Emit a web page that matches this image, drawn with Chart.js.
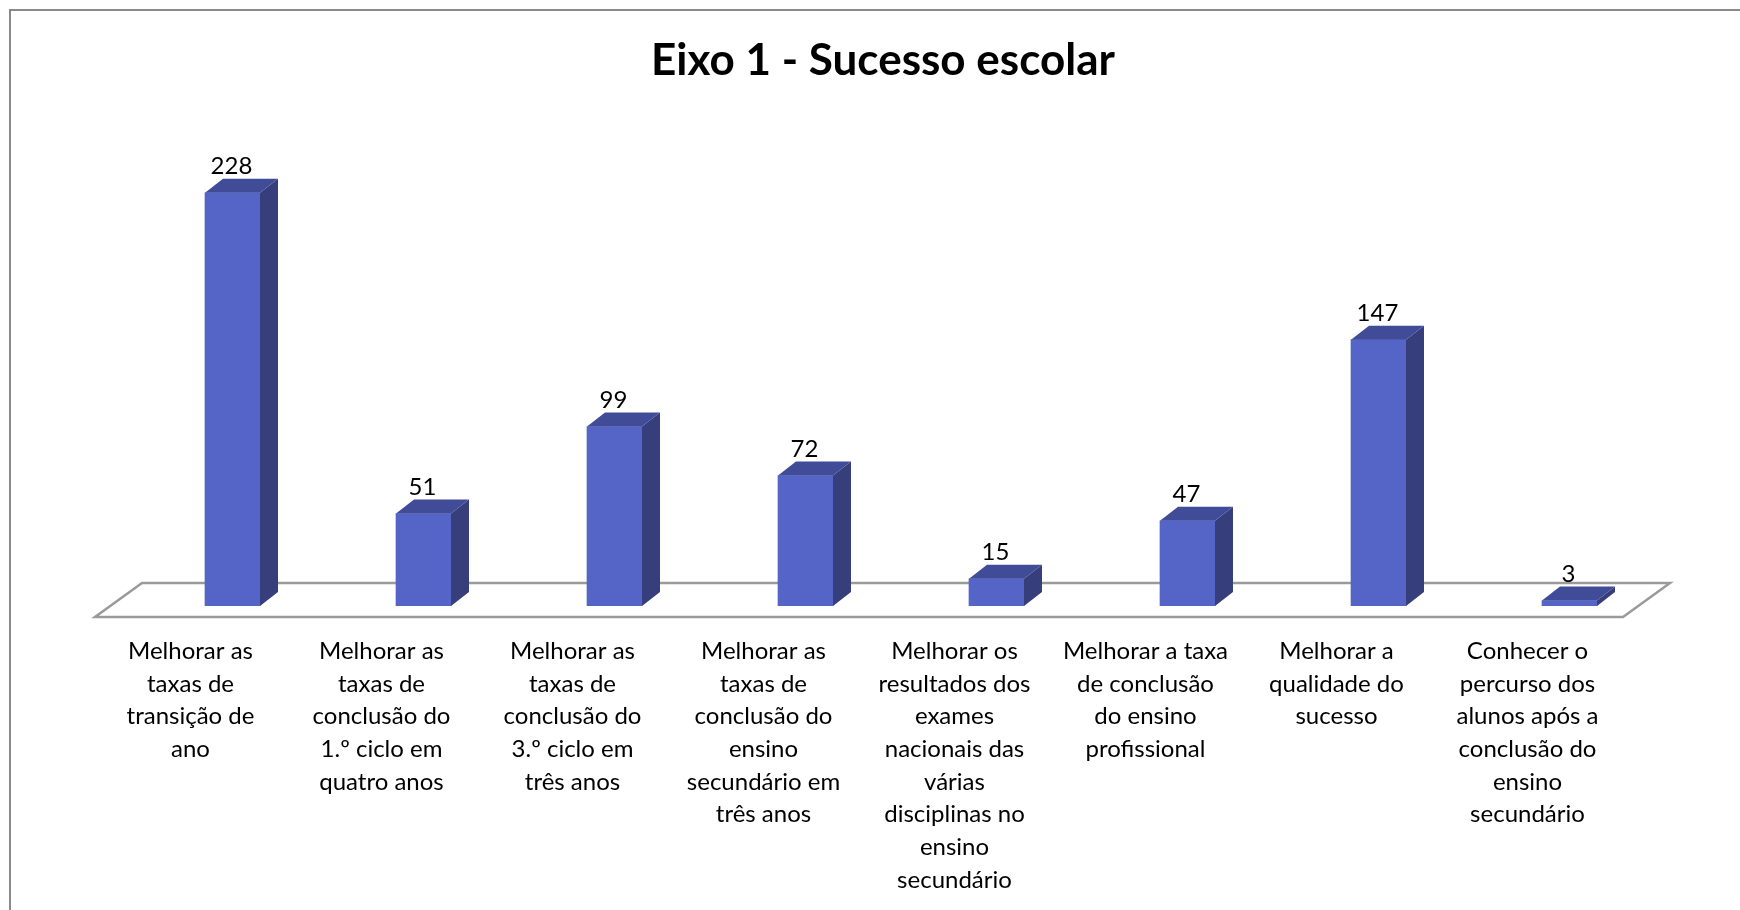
<!DOCTYPE html>
<html>
<head>
<meta charset="utf-8">
<script src="https://cdn.jsdelivr.net/npm/chart.js@4.4.0/dist/chart.umd.min.js"></script>
<style>
  body { margin: 0; background: #fff; }
</style>
</head>
<body>
<canvas id="eixoChart" width="1740" height="910"></canvas>
<script>
var chartTitle = 'Eixo 1 - Sucesso escolar';
var categories = [
  ['Melhorar as', 'taxas de', 'transição de', 'ano'],
  ['Melhorar as', 'taxas de', 'conclusão do', '1.º ciclo em', 'quatro anos'],
  ['Melhorar as', 'taxas de', 'conclusão do', '3.º ciclo em', 'três anos'],
  ['Melhorar as', 'taxas de', 'conclusão do', 'ensino', 'secundário em', 'três anos'],
  ['Melhorar os', 'resultados dos', 'exames', 'nacionais das', 'várias', 'disciplinas no', 'ensino', 'secundário'],
  ['Melhorar a taxa', 'de conclusão', 'do ensino', 'profissional'],
  ['Melhorar a', 'qualidade do', 'sucesso'],
  ['Conhecer o', 'percurso dos', 'alunos após a', 'conclusão do', 'ensino', 'secundário']
];
var values = [228, 51, 99, 72, 15, 47, 147, 3];

var FRONT = 'rgb(85, 101, 199)';
var SIDE = 'rgb(54, 62, 124)';
var TOP = 'rgb(65, 76, 152)';
var DX = 18, DY = 14; // depth of the 3d bars

// fake 3d look: floor, side and top faces, value labels
var bars3d = {
  id: 'bars3d',
  beforeDraw: function(chart) {
    var ctx = chart.ctx;
    ctx.save();
    ctx.strokeStyle = '#8a8a8a';
    ctx.lineWidth = 2;
    ctx.beginPath();
    ctx.moveTo(10, 910);
    ctx.lineTo(10, 10);
    ctx.lineTo(1740, 10);
    ctx.stroke();
    ctx.restore();
  },
  beforeDatasetsDraw: function(chart) {
    var ctx = chart.ctx, a = chart.chartArea;
    ctx.save();
    ctx.strokeStyle = '#9a9a9a';
    ctx.lineWidth = 2.5;
    ctx.beginPath();
    ctx.moveTo(a.left - 42, a.bottom + 11);
    ctx.lineTo(a.right - 42, a.bottom + 11);
    ctx.lineTo(a.right + 5, a.bottom - 23);
    ctx.lineTo(a.left + 5, a.bottom - 23);
    ctx.closePath();
    ctx.stroke();
    ctx.restore();
  },
  afterDatasetsDraw: function(chart) {
    var ctx = chart.ctx;
    var meta = chart.getDatasetMeta(0);
    ctx.save();
    meta.data.forEach(function(bar, i) {
      var l = bar.x - bar.width / 2, r = bar.x + bar.width / 2;
      var t = bar.y, b = bar.base;
      ctx.fillStyle = SIDE;
      ctx.beginPath();
      ctx.moveTo(r, t);
      ctx.lineTo(r + DX, t - DY);
      ctx.lineTo(r + DX, b - DY);
      ctx.lineTo(r, b);
      ctx.closePath();
      ctx.fill();
      ctx.fillStyle = TOP;
      ctx.beginPath();
      ctx.moveTo(l, t);
      ctx.lineTo(l + DX, t - DY);
      ctx.lineTo(r + DX, t - DY);
      ctx.lineTo(r, t);
      ctx.closePath();
      ctx.fill();

      ctx.fillStyle = '#000';
      ctx.font = '24px Lato';
      ctx.textAlign = 'center';
      ctx.textBaseline = 'alphabetic';
      ctx.fillText(String(values[i]), bar.x - 1, t - DY - 5);
    });
    ctx.restore();
  },
  afterDraw: function(chart) {
    var ctx = chart.ctx;
    ctx.save();
    ctx.fillStyle = '#000';
    ctx.font = 'bold 44px Lato';
    ctx.textAlign = 'center';
    ctx.textBaseline = 'alphabetic';
    ctx.fillText(chartTitle, 883, 75);
    ctx.restore();
  }
};

var ctx = document.getElementById('eixoChart').getContext('2d');
var chart = new Chart(ctx, {
  type: 'bar',
  data: {
    labels: categories,
    datasets: [{
      data: values,
      backgroundColor: FRONT,
      borderWidth: 0,
      barThickness: 55
    }]
  },
  options: {
    responsive: false,
    animation: false,
    layout: {
      padding: { left: 137, right: 75, top: 153, bottom: 0 }
    },
    plugins: {
      legend: { display: false },
      tooltip: { enabled: false },
      title: { display: false }
    },
    scales: {
      x: {
        grid: { display: false, drawTicks: false },
        border: { display: false },
        ticks: {
          color: '#000',
          font: { family: 'Lato', size: 24, lineHeight: 1.36 },
          padding: 29,
          labelOffset: -42,
          autoSkip: false,
          maxRotation: 0
        },
        afterFit: function(scale) { scale.height = 304; }
      },
      y: {
        display: false,
        min: 0,
        max: 250
      }
    }
  },
  plugins: [bars3d]
});
</script>
</body>
</html>
